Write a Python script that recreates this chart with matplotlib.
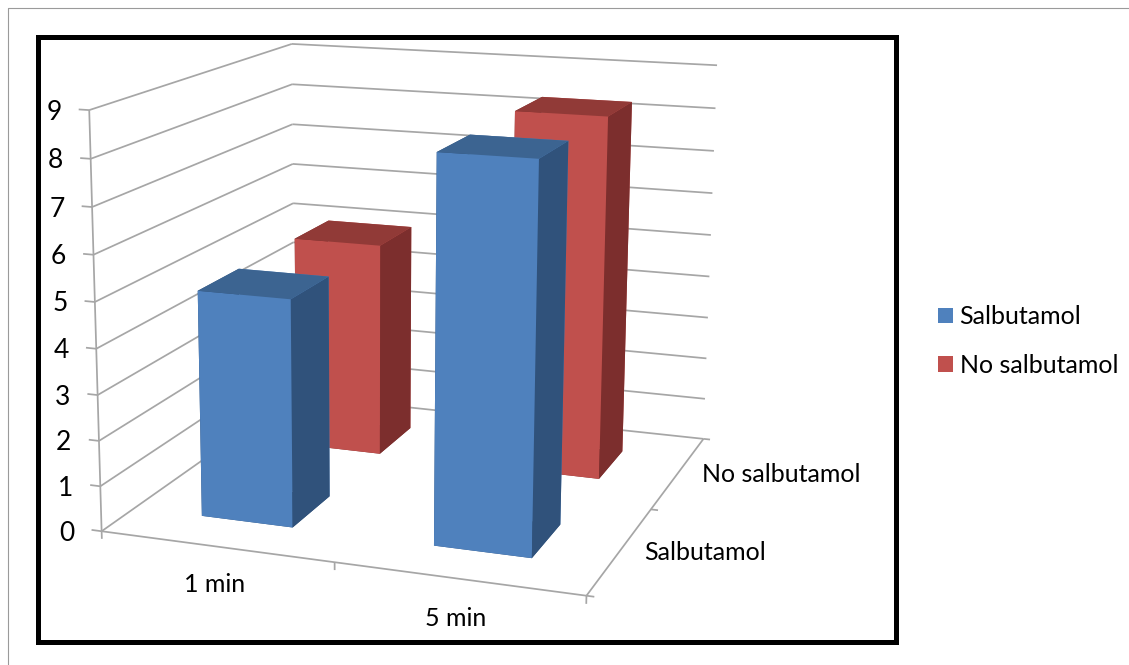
import numpy as np
import matplotlib
matplotlib.use('Agg')
import matplotlib.pyplot as plt
from matplotlib.lines import Line2D
from matplotlib.patches import Patch, Rectangle
from mpl_toolkits.mplot3d.art3d import Line3DCollection

plt.rcParams['font.family'] = ['Lato', 'DejaVu Sans']

W, H = 1129, 665

categories = ['1 min', '5 min']
series = ['Salbutamol', 'No salbutamol']
salbutamol = [5, 8.3]
no_salbutamol = [5, 8.3]
value_ticks = list(range(0, 10))

blue = ['#30527B', '#3C6491', '#4F81BD', '#4F81BD', '#30527B', '#30527B']
red = ['#7C2E2D', '#913A37', '#C0504D', '#C0504D', '#7C2E2D', '#7C2E2D']
grid_col = '#A6A6A6'
bar_w = 0.4  # gap width 150%

# camera of the original 3D chart: (x, y, z, 1) -> picture pixels
camera = np.array([
    [220.491984, 127.080505, -1.816056, 101.623277],
    [9.961724, -27.066330, -47.334859, 531.244372],
    [-0.037380, 0.103673, -0.004909, 1.000000],
])

fig = plt.figure(figsize=(W / 100, H / 100), dpi=100)
ax = fig.add_axes([68 / W, 0, H / W, 1], projection='3d', computed_zorder=False)
ax.set_axis_off()
ax.patch.set_visible(False)
ax.apply_aspect()

# pixels -> the 2D view coordinates of the axes
flip = np.array([[1, 0, 0], [0, -1, H], [0, 0, 1]])
view = ax.transData.inverted().get_matrix() @ flip @ camera
M = np.array([view[0], view[1], [-1, 1, -0.2, 5], view[2]])
ax.get_proj = lambda: M


def to_pixels(x, y, z):
    p = camera @ np.array([x, y, z, 1])
    return p[0] / p[2], p[1] / p[2]


def label(px, py, txt, size=18, **kw):
    fig.text(px / W, 1 - py / H, txt, fontsize=size, color='black', va='center', **kw)


# walls and floor
segs = []
for z in value_ticks:
    segs.append([(0, 0, z), (0, 2, z)])
    segs.append([(0, 2, z), (2, 2, z)])
    segs.append([(-0.045, 0, z), (0, 0, z)])
    px, py = to_pixels(0, 0, z)
    label(px - 27.5, py + 2, str(z), size=19, ha='right')
segs.append([(0, 0, 0), (0, 0, value_ticks[-1])])
segs.append([(0, 0, 0), (2, 0, 0)])
segs.append([(2, 0, 0), (2, 2, 0)])
for i in range(len(categories) + 1):
    segs.append([(i, 0, 0), (i, 0, -0.17)])
    segs.append([(2, i, 0), (2.03, i, 0)])
ax.add_collection3d(Line3DCollection(segs, colors=grid_col, linewidths=1.25, zorder=1))

# back row first, the front row covers it
for s, (vals, cols) in reversed(list(enumerate([(salbutamol, blue), (no_salbutamol, red)]))):
    for c, v in enumerate(vals):
        ax.bar3d(c + 0.3, s + 0.3, 0, bar_w, bar_w, v, color=cols, shade=False,
                 linewidth=0.4, edgecolor=None, zorder=3 + (1 - s))

label(215, 585, categories[0], ha='center')
label(456, 618, categories[1], ha='center')
label(644, 552, series[0], ha='left')
label(702, 474, series[1], ha='left')

# frames
fig.add_artist(Rectangle((37.5 / W, 1 - 641.5 / H), 858 / W, 605 / H, fill=False, ec='black', lw=3.6,
                         transform=fig.transFigure, zorder=5))
fig.add_artist(Line2D([8 / W, 8 / W, 1], [0, 1 - 8 / H, 1 - 8 / H], color='#9A9A9A', lw=0.8))

handles = [Patch(facecolor=blue[2]), Patch(facecolor=red[2])]
fig.legend(handles, series, loc='center left', bbox_to_anchor=(917.5 / W, 1 - 341 / H), frameon=False,
           fontsize=18, handlelength=0.6, handleheight=0.6, handletextpad=0.28, labelspacing=1.02,
           borderpad=0.3)

fig.savefig('out.png', dpi=100)
